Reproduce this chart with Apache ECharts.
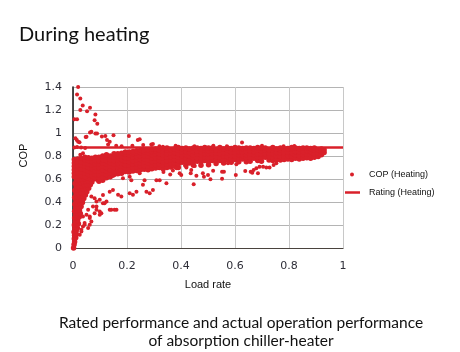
<!DOCTYPE html>
<html>
<head>
<meta charset="utf-8">
<script src="https://cdn.jsdelivr.net/npm/echarts@6/dist/echarts.min.js"></script>
<style>
  html, body { margin: 0; padding: 0; background: #fff; }
  #chart { width: 460px; height: 352px; }
</style>
</head>
<body>
<div id="chart"></div>
<script>
// axis ticks
const xTicks = [0, 0.2, 0.4, 0.6, 0.8, 1];
const yTicks = [0, 0.2, 0.4, 0.6, 0.8, 1, 1.2, 1.4];

// rated COP (heating)
const ratingCop = 0.875;

// points well above the rating line (mostly at low load)
const highPoints = [
  [0.019,1.40],[0.015,1.335],[0.027,1.30],[0.036,1.24],[0.027,1.20],[0.052,1.19],[0.063,1.22],
  [0.005,1.12],[0.015,1.12],[0.083,1.16],[0.08,1.11],[0.09,1.08],[0.063,1.005],[0.083,0.995],
  [0.047,0.965],[0.009,0.955],[0.014,0.94],[0.024,0.92],[0.107,0.97],[0.12,0.975],[0.15,0.98],
  [0.126,0.94],[0.136,0.925],[0.068,1.01],[0.089,0.996],[0.05,0.967],[0.019,0.924],
  [0.207,0.973],[0.24,0.94],[0.247,0.945],[0.29,0.90],[0.296,0.904],[0.32,0.885],[0.333,0.88],
  [0.626,0.918],[0.027,0.81],[0.037,0.823],[0.005,0.875],[0.015,0.878],[0.03,0.875],[0.045,0.87],
  [0.13,0.90],[0.16,0.89],[0.18,0.885],[0.22,0.89],[0.26,0.895],[0.38,0.89],[0.45,0.885],
  [0.52,0.89],[0.57,0.885],[0.70,0.89],[0.78,0.885],[0.82,0.888]
];

// dense wedge at very low load
const wedgePoints = [
  [0.002,0.0],[0.004,0.03],[0.006,0.055],[0.005,0.08],[0.01,0.09],[0.006,0.11],[0.012,0.12],
  [0.004,0.14],[0.012,0.15],[0.007,0.17],[0.016,0.175],[0.005,0.2],[0.013,0.205],[0.02,0.21],
  [0.008,0.23],[0.017,0.24],[0.006,0.26],[0.014,0.265],[0.023,0.27],[0.009,0.29],[0.019,0.295],
  [0.027,0.3],[0.006,0.32],[0.015,0.325],[0.024,0.33],[0.01,0.35],[0.02,0.355],[0.03,0.36],
  [0.007,0.38],[0.016,0.385],[0.026,0.39],[0.035,0.395],[0.011,0.41],[0.021,0.415],[0.031,0.42],
  [0.04,0.43],[0.006,0.44],[0.016,0.445],[0.026,0.45],[0.036,0.455],[0.046,0.46],[0.011,0.47],
  [0.021,0.475],[0.031,0.48],[0.041,0.485],[0.051,0.49],[0.007,0.5],[0.017,0.505],[0.027,0.51],
  [0.037,0.515],[0.047,0.52],[0.058,0.52],[0.012,0.53],[0.022,0.535],[0.032,0.54],[0.042,0.545],
  [0.052,0.55],[0.064,0.55],[0.008,0.56],[0.018,0.565],[0.028,0.57],[0.038,0.575],[0.048,0.58],
  [0.058,0.58],[0.07,0.575],[0.013,0.59],[0.023,0.595],[0.033,0.6],[0.043,0.605],[0.053,0.61],
  [0.064,0.605],[0.076,0.6],[0.088,0.6]
];

// main band: each row is [load rate, cop, cop, ...]
const bandColumns = [
  [0.005,0.62,0.65,0.68,0.71,0.74,0.77],
  [0.018,0.625,0.655,0.685,0.715,0.745,0.775],
  [0.031,0.63,0.66,0.69,0.72,0.75,0.78],
  [0.044,0.62,0.65,0.68,0.71,0.74,0.77,0.79],
  [0.057,0.64,0.67,0.70,0.73,0.76,0.785],
  [0.07,0.63,0.66,0.69,0.72,0.75,0.78],
  [0.083,0.61,0.64,0.67,0.70,0.73,0.76,0.79],
  [0.096,0.58,0.61,0.64,0.67,0.70,0.73,0.76,0.79],
  [0.11,0.59,0.62,0.65,0.68,0.71,0.74,0.77,0.80],
  [0.124,0.61,0.64,0.67,0.70,0.73,0.76,0.79,0.81],
  [0.138,0.62,0.65,0.68,0.71,0.74,0.77,0.80],
  [0.152,0.64,0.67,0.70,0.73,0.76,0.79,0.82],
  [0.166,0.645,0.675,0.705,0.735,0.765,0.795,0.82],
  [0.18,0.65,0.68,0.71,0.74,0.77,0.80,0.825],
  [0.194,0.665,0.695,0.725,0.755,0.785,0.815,0.835],
  [0.208,0.66,0.69,0.72,0.75,0.78,0.81,0.835],
  [0.222,0.67,0.70,0.73,0.76,0.79,0.82,0.84],
  [0.236,0.675,0.705,0.735,0.765,0.795,0.825,0.845],
  [0.25,0.68,0.71,0.74,0.77,0.80,0.83,0.85],
  [0.264,0.685,0.715,0.745,0.775,0.805,0.835,0.85],
  [0.278,0.68,0.71,0.74,0.77,0.80,0.83,0.855],
  [0.292,0.69,0.72,0.75,0.78,0.81,0.84,0.86],
  [0.306,0.695,0.725,0.755,0.785,0.815,0.845,0.86],
  [0.32,0.70,0.73,0.76,0.79,0.82,0.85],
  [0.334,0.69,0.72,0.75,0.78,0.81,0.84,0.865],
  [0.348,0.70,0.73,0.76,0.79,0.82,0.85,0.87],
  [0.362,0.705,0.735,0.765,0.795,0.825,0.855],
  [0.376,0.71,0.74,0.77,0.80,0.83,0.86],
  [0.39,0.70,0.73,0.76,0.79,0.82,0.85,0.875],
  [0.404,0.745,0.775,0.805,0.835,0.865],
  [0.418,0.72,0.75,0.78,0.81,0.84,0.87],
  [0.432,0.74,0.77,0.80,0.83,0.86],
  [0.446,0.72,0.75,0.78,0.81,0.84,0.87],
  [0.46,0.755,0.785,0.815,0.845,0.87],
  [0.474,0.72,0.75,0.78,0.81,0.84,0.865],
  [0.488,0.76,0.79,0.82,0.85,0.875],
  [0.502,0.725,0.755,0.785,0.815,0.845,0.87],
  [0.516,0.76,0.79,0.82,0.85,0.87],
  [0.53,0.735,0.765,0.795,0.825,0.855],
  [0.544,0.76,0.79,0.82,0.85,0.875],
  [0.558,0.74,0.77,0.80,0.83,0.86],
  [0.572,0.765,0.795,0.825,0.855,0.87],
  [0.586,0.745,0.775,0.805,0.835,0.865],
  [0.6,0.77,0.80,0.83,0.86,0.875],
  [0.614,0.75,0.78,0.81,0.84,0.87],
  [0.628,0.775,0.805,0.835,0.865],
  [0.642,0.75,0.78,0.81,0.84,0.87],
  [0.656,0.755,0.785,0.815,0.845,0.87],
  [0.67,0.78,0.81,0.84,0.865],
  [0.684,0.76,0.79,0.82,0.85,0.875],
  [0.698,0.755,0.785,0.815,0.845,0.87],
  [0.712,0.79,0.82,0.85,0.87],
  [0.726,0.765,0.795,0.825,0.855],
  [0.74,0.76,0.79,0.82,0.85,0.875],
  [0.754,0.77,0.80,0.83,0.86],
  [0.768,0.765,0.795,0.825,0.855,0.87],
  [0.782,0.77,0.80,0.83,0.86],
  [0.796,0.775,0.805,0.835,0.865],
  [0.81,0.77,0.80,0.83,0.86,0.875],
  [0.824,0.78,0.81,0.84,0.87],
  [0.838,0.775,0.805,0.835,0.865],
  [0.852,0.78,0.81,0.84,0.87],
  [0.866,0.785,0.815,0.845,0.87],
  [0.88,0.78,0.81,0.84,0.865],
  [0.894,0.79,0.82,0.85,0.87],
  [0.908,0.795,0.825,0.855],
  [0.92,0.81,0.84,0.86],
  [0.93,0.83,0.855]
];

// scattered points below the band
const lowPoints = [
  [0.148,0.627],[0.17,0.644],[0.185,0.607],[0.21,0.62],[0.216,0.59],[0.247,0.65],[0.259,0.549],
  [0.265,0.59],[0.272,0.49],[0.284,0.477],[0.296,0.505],[0.309,0.59],[0.321,0.59],[0.346,0.563],
  [0.235,0.49],[0.222,0.462],[0.21,0.477],[0.179,0.447],[0.167,0.462],[0.136,0.49],[0.148,0.505],
  [0.111,0.46],[0.099,0.419],[0.08,0.433],[0.068,0.447],[0.087,0.404],[0.074,0.36],[0.087,0.36],
  [0.099,0.317],[0.105,0.303],[0.117,0.39],[0.124,0.404],[0.142,0.332],[0.161,0.332],[0.056,0.332],
  [0.05,0.289],[0.062,0.26],[0.068,0.23],[0.043,0.217],[0.037,0.188],[0.056,0.173],[0.062,0.202],
  [0.031,0.144],[0.025,0.115],[0.031,0.159],[0.043,0.202],[0.037,0.274],[0.062,0.274],[0.08,0.303],
  [0.099,0.289],[0.087,0.332],[0.111,0.39],[0.136,0.332],[0.154,0.332],
  [0.401,0.635],[0.436,0.65],[0.447,0.555],[0.457,0.629],[0.481,0.65],[0.485,0.62],[0.5,0.635],
  [0.509,0.598],[0.519,0.672],[0.552,0.664],[0.559,0.664],[0.552,0.603],[0.603,0.635],[0.574,0.737],
  [0.605,0.728],[0.638,0.67],[0.658,0.664],[0.664,0.655],[0.669,0.678],[0.685,0.65],[0.679,0.693],
  [0.691,0.707],[0.704,0.707],[0.716,0.701],[0.728,0.701],[0.743,0.722],[0.753,0.737],[0.42,0.699],
  [0.451,0.713],[0.383,0.693],[0.395,0.65],[0.438,0.678],[0.335,0.66],[0.36,0.64],[0.37,0.675]
];

const bandPoints = [];
bandColumns.forEach(function (col) {
  for (let i = 1; i < col.length; i++) bandPoints.push([col[0], col[i]]);
});
const densePoints = wedgePoints.concat(bandPoints);
const sparsePoints = lowPoints.concat(highPoints);

const red = '#d9202a';
const labelFont = { fontFamily: 'DejaVu Sans', fontSize: 11, color: '#2e2e38' };
const nameFont = { fontFamily: 'Liberation Sans', fontSize: 11, color: '#111' };

const chart = echarts.init(document.getElementById('chart'));

chart.setOption({
  animation: false,
  title: {
    text: 'During heating',
    left: 14, top: 20,
    textStyle: { fontFamily: 'Lato', fontSize: 20, fontWeight: 'normal', color: '#111' }
  },
  graphic: [
    {
      type: 'text',
      x: 241, y: 314,
      style: {
        text: 'Rated performance and actual operation performance\nof absorption chiller-heater',
        font: '15.5px Lato', fill: '#111', textAlign: 'center', lineHeight: 18
      }
    }
  ],
  legend: [
    {
      data: ['COP (Heating)'],
      left: 350, top: 170, padding: 0,
      icon: 'circle', itemWidth: 4, itemHeight: 4,
      textStyle: { fontFamily: 'Liberation Sans', fontSize: 9, color: '#111', padding: [0, 0, 0, 10] }
    },
    {
      data: ['Rating (Heating)'],
      left: 345, top: 188, padding: 0,
      icon: 'rect', itemWidth: 15, itemHeight: 2.5,
      textStyle: { fontFamily: 'Liberation Sans', fontSize: 9, color: '#111', padding: [0, 0, 0, 4] }
    }
  ],
  grid: { left: 73, right: 117, top: 87, bottom: 104 },
  xAxis: [
    {
      type: 'value',
      min: xTicks[0], max: xTicks[xTicks.length - 1], interval: xTicks[1] - xTicks[0],
      name: 'Load rate', nameLocation: 'middle', nameGap: 31, nameTextStyle: nameFont,
      axisLine: { show: true, lineStyle: { color: '#a6a6a6' } },
      axisTick: { show: false },
      axisLabel: Object.assign({ margin: 13 }, labelFont),
      splitLine: { show: true, lineStyle: { color: '#c8c8c8' } }
    },
    {
      type: 'value', position: 'top',
      min: xTicks[0], max: xTicks[xTicks.length - 1],
      axisLine: { show: true, lineStyle: { color: '#4a433e' } },
      axisTick: { show: false }, axisLabel: { show: false }, splitLine: { show: false }
    }
  ],
  yAxis: [
    {
      type: 'value',
      min: yTicks[0], max: yTicks[yTicks.length - 1], interval: yTicks[1] - yTicks[0],
      name: 'COP', nameLocation: 'middle', nameGap: 44,
      nameTextStyle: Object.assign({ padding: [0, 0, 0, 24] }, nameFont),
      axisLine: { show: true, lineStyle: { color: '#cfcfcf' } },
      axisTick: { show: false },
      axisLabel: Object.assign({ margin: 11 }, labelFont),
      splitLine: { show: true, lineStyle: { color: '#b4b4b4' } }
    },
    {
      type: 'value', position: 'right',
      min: yTicks[0], max: yTicks[yTicks.length - 1],
      axisLine: { show: true, lineStyle: { color: '#111', width: 1.5 } },
      axisTick: { show: false }, axisLabel: { show: false }, splitLine: { show: false }
    }
  ],
  series: [
    {
      name: 'COP (Heating)',
      type: 'scatter',
      symbolSize: 5.5,
      itemStyle: { color: red, opacity: 1 },
      data: densePoints
    },
    {
      name: 'COP (Heating)',
      type: 'scatter',
      symbolSize: 4,
      itemStyle: { color: red, opacity: 1 },
      data: sparsePoints
    },
    {
      name: 'Rating (Heating)',
      type: 'line',
      symbol: 'none',
      lineStyle: { color: red, width: 2.5 },
      itemStyle: { color: red },
      data: [[xTicks[0], ratingCop], [xTicks[xTicks.length - 1], ratingCop]]
    }
  ]
});
</script>
</body>
</html>
